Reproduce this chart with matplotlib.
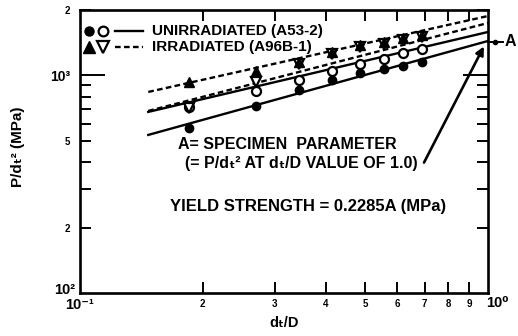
import matplotlib
matplotlib.use("Agg")
import matplotlib.pyplot as plt
from matplotlib.ticker import FixedLocator, FixedFormatter

plt.rcParams['font.family'] = ['Liberation Sans', 'DejaVu Sans']
plt.rcParams['font.weight'] = 'bold'

# ---- data ----
x_vals = [0.185, 0.27, 0.345, 0.415, 0.485, 0.555, 0.62, 0.69]
unirr_filled = [574, 724, 858, 953, 1027, 1071, 1106, 1154]
unirr_open = [717, 849, 953, 1049, 1129, 1191, 1269, 1324]
irr_filled = [933, 1049, 1154, 1283, 1381, 1426, 1487, 1535]
irr_open = [709, 933, 1129, 1255, 1352, 1396, 1456, 1502]

line_x = [0.147, 1.0]
line_unirr_filled = [533, 1441]
line_unirr_open = [680, 1585]
line_irr_open = [687, 1743]
line_irr_filled = [840, 1877]

x_ticks = [0.2, 0.3, 0.4, 0.5, 0.6, 0.7, 0.8, 0.9]
x_labels = ['2', '3', '4', '5', '6', '7', '8', '9']
y_ticks = [200, 300, 400, 500, 600, 700, 800, 900, 2000]
y_labels = ['2', '', '', '5', '', '', '', '', '2']

fig = plt.figure(figsize=(5.18, 3.36), dpi=100)
ax = fig.add_axes([80/518, 43/336, 408/518, 283/336])
ax.set_xscale('log')
ax.set_yscale('log')
ax.set_xlim(0.1, 1.0)
ax.set_ylim(100, 2000)

lw = 1.7
dash = (2.4, 1.4)
ax.plot(line_x, line_unirr_filled, color='black', lw=lw)
ax.plot(line_x, line_unirr_open, color='black', lw=lw)
ax.plot(line_x, line_irr_open, color='black', lw=lw, dashes=dash)
ax.plot(line_x, line_irr_filled, color='black', lw=lw, dashes=dash)

ax.plot(x_vals, unirr_filled, 'o', color='black', ms=6, ls='none')
ax.plot(x_vals, unirr_open, 'o', mfc='white', mec='black', mew=1.6, ms=6.5, ls='none')
ax.plot(x_vals, irr_open, 'v', mfc='white', mec='black', mew=1.6, ms=7.5, ls='none')
ax.plot(x_vals, irr_filled, '^', color='black', ms=7.5, ls='none')

for s in ax.spines.values():
    s.set_linewidth(1.9)

ax.xaxis.set_major_locator(FixedLocator(x_ticks))
ax.xaxis.set_major_formatter(FixedFormatter(x_labels))
ax.xaxis.set_minor_locator(FixedLocator([]))
ax.yaxis.set_major_locator(FixedLocator(y_ticks))
ax.yaxis.set_major_formatter(FixedFormatter(y_labels))
ax.yaxis.set_minor_locator(FixedLocator([1000]))
ax.yaxis.set_minor_formatter(FixedFormatter(['10³']))
ax.tick_params(which='both', direction='in', top=True, right=True, width=1.4, color='black')
ax.tick_params(axis='x', which='major', length=8, pad=4, labelsize=7)
ax.tick_params(axis='y', which='major', length=8, pad=7, labelsize=7)
ax.tick_params(axis='y', which='minor', length=18, pad=7, labelsize=10)

ax.text(0.1, -0.042, '10⁻¹', transform=ax.get_xaxis_transform(), ha='center', va='center', fontsize=10.5)
ax.text(1.022, -0.035, '10⁰', transform=ax.transAxes, ha='center', va='center', fontsize=10.5)
ax.text(-0.012, 0.01, '10²', transform=ax.transAxes, ha='right', va='center', fontsize=10.5)

# legend drawn as text and sample marks
r1, r2 = 0.926, 0.871
ax.plot([0.022], [r1], 'o', color='black', ms=6.5, transform=ax.transAxes, clip_on=False)
ax.plot([0.056], [r1], 'o', mfc='white', mec='black', mew=1.6, ms=7, transform=ax.transAxes, clip_on=False)
ax.plot([0.086, 0.154], [r1, r1], color='black', lw=lw, transform=ax.transAxes)
ax.text(0.176, r1, 'UNIRRADIATED (A53-2)', transform=ax.transAxes, ha='left', va='center', fontsize=11)
ax.plot([0.022], [r2], '^', color='black', ms=8.5, transform=ax.transAxes, clip_on=False)
ax.plot([0.056], [r2], 'v', mfc='white', mec='black', mew=1.6, ms=8.5, transform=ax.transAxes, clip_on=False)
ax.plot([0.086, 0.154], [r2, r2], color='black', lw=lw, dashes=dash, transform=ax.transAxes)
ax.text(0.176, r2, 'IRRADIATED (A96B-1)', transform=ax.transAxes, ha='left', va='center', fontsize=11)

ax.text(0.240, 0.523, 'A= SPECIMEN  PARAMETER', transform=ax.transAxes, ha='left', va='center', fontsize=11.5)
ax.text(0.257, 0.456, '(= P/dₜ² AT dₜ/D VALUE OF 1.0)', transform=ax.transAxes, ha='left', va='center', fontsize=11.5)
ax.text(0.221, 0.304, 'YIELD STRENGTH = 0.2285A (MPa)', transform=ax.transAxes, ha='left', va='center', fontsize=12)

ax.annotate('', xy=(0.993, 0.880), xytext=(0.840, 0.452), xycoords='axes fraction', textcoords='axes fraction',
            arrowprops=dict(arrowstyle='-|>', color='black', lw=1.9, mutation_scale=12))
ax.plot([1.0, 1.037], [0.887, 0.887], color='black', lw=1.4, transform=ax.transAxes, clip_on=False)
ax.plot([1.017], [0.887], 'o', color='black', ms=3, transform=ax.transAxes, clip_on=False)
ax.text(1.054, 0.887, 'A', transform=ax.transAxes, ha='center', va='center', fontsize=11.5)

fig.text(18/518, 0.5625, 'P/dₜ² (MPa)', rotation=90, ha='center', va='center', fontsize=11)
fig.text(284/518, 13/336, 'dₜ/D', ha='center', va='center', fontsize=10.5)

fig.savefig('out.png', dpi=100)
